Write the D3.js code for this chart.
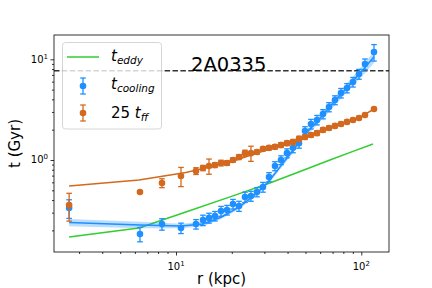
<!DOCTYPE html>
<html>
<head>
<meta charset="utf-8">
<script src="https://cdn.jsdelivr.net/npm/d3@7"></script>
<style>
body { margin: 0; background: #fff; }
svg { display: block; }
text { font-family: "DejaVu Sans", sans-serif; }
</style>
</head>
<body>
<div id="chart"></div>
<script>
// radii of the profile bins (kpc)
var radius = [2.65, 6.39, 8.40, 10.64, 12.82, 13.98, 15.07, 16.23, 17.50, 18.85, 20.30, 21.88, 23.57, 25.39, 27.36,
  29.48, 31.76, 34.21, 36.87, 39.72, 42.79, 46.11, 49.68, 53.52, 57.67, 62.13, 66.94, 72.12, 77.70, 83.72,
  90.20, 97.18, 104.7, 117.1];

// cooling time (Gyr)
var tCool = [0.333, 0.184, 0.231, 0.211, 0.231, 0.253, 0.266, 0.278, 0.311, 0.319, 0.366, 0.349, 0.429, 0.439, 0.481,
  0.539, 0.678, 0.872, 1.00, 1.17, 1.32, 1.47, 1.94, 2.28, 2.50, 2.86, 3.36, 3.94, 4.63, 5.19,
  5.95, 7.14, 8.97, 11.8];
var tCoolErr = [0.07, 0.03, 0.03, 0.025, 0.025, 0.03, 0.03, 0.03, 0.035, 0.035, 0.04, 0.04, 0.05, 0.05, 0.05,
  0.06, 0.07, 0.09, 0.10, 0.12, 0.14, 0.16, 0.20, 0.25, 0.27, 0.30, 0.35, 0.40, 0.50, 0.55,
  0.65, 0.80, 1.1, 2.2];

// 25 x free-fall time (Gyr)
var tFF = [0.357, 0.481, 0.591, 0.694, 0.778, 0.833, 0.872, 0.891, 0.934, 0.934, 1.00, 1.07, 1.17, 1.17, 1.20,
  1.29, 1.32, 1.35, 1.41, 1.47, 1.51, 1.62, 1.69, 1.77, 1.85, 1.99, 2.08, 2.18, 2.28, 2.39,
  2.50, 2.61, 2.80, 3.21];
var tFFErr = [0.11, 0.01, 0.06, 0.15, 0.06, 0.05, 0.15, 0.05, 0.06, 0.05, 0.05, 0.06, 0.08, 0.2, 0.06,
  0.06, 0.07, 0.07, 0.08, 0.08, 0.09, 0.1, 0.09, 0.09, 0.1, 0.1, 0.1, 0.1, 0.1, 0.1,
  0.1, 0.1, 0.1, 0.1];

// eddy turnover time (Gyr)
var eddyR = [2.65, 6.31, 11.3, 20.3, 32.1, 46.7, 67.7, 92.5, 115.6];
var eddyT = [0.172, 0.211, 0.305, 0.44, 0.59, 0.77, 1.0, 1.24, 1.44];

// cooling-time fit with its band
var coolFitR = [2.65, 6.39, 10.64, 13.98, 17.5, 21.9, 27.4, 31.8, 36.9, 42.8, 49.7, 57.7, 67.0, 77.7, 90.2, 104.7, 117.1];
var coolFit = [0.239, 0.226, 0.221, 0.232, 0.27, 0.34, 0.47, 0.62, 0.88, 1.25, 1.8, 2.4, 3.3, 4.5, 6.1, 8.3, 10.6];
var coolFitLo = [0.22, 0.21, 0.21, 0.22, 0.26, 0.325, 0.45, 0.59, 0.83, 1.17, 1.68, 2.22, 3.02, 4.08, 5.45, 7.3, 9.2];
var coolFitHi = [0.26, 0.243, 0.233, 0.244, 0.282, 0.355, 0.49, 0.65, 0.93, 1.33, 1.92, 2.58, 3.58, 4.92, 6.75, 9.3, 12.0];

// free-fall model
var ffFitR = [2.65, 6.31, 11.3, 15.07, 20.3, 25.4, 31.8, 39.7, 49.7, 62.1, 77.7, 97.2, 117.1];
var ffFit = [0.552, 0.633, 0.75, 0.85, 0.97, 1.12, 1.28, 1.45, 1.68, 1.97, 2.3, 2.62, 3.21];

var ageLine = 7.7;
var clusterName = "2A0335";

var xMajor = [10, 100];
var xMinor = [3, 4, 5, 6, 7, 8, 9, 20, 30, 40, 50, 60, 70, 80, 90];
var yMajor = [1, 10];
var yMinor = [0.2, 0.3, 0.4, 0.5, 0.6, 0.7, 0.8, 0.9, 2, 3, 4, 5, 6, 7, 8, 9];

var blue = "#1e90ff";
var orange = "#d2691e";
var green = "#32cd32";

var svgWidth = 432, svgHeight = 288;
var margin = {top: 35, right: 43, bottom: 36, left: 54};
var width = svgWidth - margin.left - margin.right;
var height = svgHeight - margin.top - margin.bottom;

var svg = d3.select("#chart").append("svg")
  .attr("width", svgWidth)
  .attr("height", svgHeight);

var chartGroup = svg.append("g")
  .attr("transform", `translate(${margin.left}, ${margin.top})`);

var xScale = d3.scaleLog().domain([2.196, 141.1]).range([0, width]);
var yScale = d3.scaleLog().domain([0.122, 17.43]).range([height, 0]);

chartGroup.append("clipPath").attr("id", "clip")
  .append("rect").attr("width", width).attr("height", height);

var plot = chartGroup.append("g").attr("clip-path", "url(#clip)");

// dashed age line
plot.append("line")
  .attr("x1", 0).attr("x2", width)
  .attr("y1", yScale(ageLine)).attr("y2", yScale(ageLine))
  .attr("stroke", "#333").attr("stroke-width", 1.5)
  .attr("stroke-dasharray", "5.5,2.4");

// eddy line
var lineGen = d3.line().x(d => xScale(d[0])).y(d => yScale(d[1]));
plot.append("path")
  .attr("d", lineGen(eddyR.map((r, i) => [r, eddyT[i]])))
  .attr("fill", "none").attr("stroke", green).attr("stroke-width", 1.5);

// free-fall model line
plot.append("path")
  .attr("d", lineGen(ffFitR.map((r, i) => [r, ffFit[i]])))
  .attr("fill", "none").attr("stroke", orange).attr("stroke-width", 1.5);

// cooling fit band and line
var band = d3.area()
  .x((d, i) => xScale(coolFitR[i]))
  .y0((d, i) => yScale(coolFitLo[i]))
  .y1((d, i) => yScale(coolFitHi[i]));
plot.append("path")
  .attr("d", band(coolFit))
  .attr("fill", blue).attr("fill-opacity", 0.3);
plot.append("path")
  .attr("d", lineGen(coolFitR.map((r, i) => [r, coolFit[i]])))
  .attr("fill", "none").attr("stroke", blue).attr("stroke-width", 1.5);

function errorbars(vals, errs, color) {
  var g = plot.append("g");
  radius.forEach(function(r, i) {
    var x = xScale(r);
    var y0 = yScale(Math.max(vals[i] - errs[i], 0.01));
    var y1 = yScale(vals[i] + errs[i]);
    g.append("line").attr("x1", x).attr("x2", x).attr("y1", y0).attr("y2", y1)
      .attr("stroke", color).attr("stroke-width", 1.3);
    [y0, y1].forEach(function(yy) {
      g.append("line").attr("x1", x - 2.8).attr("x2", x + 2.8).attr("y1", yy).attr("y2", yy)
        .attr("stroke", color).attr("stroke-width", 1.3);
    });
  });
  g.selectAll("circle").data(vals).enter().append("circle")
    .attr("cx", (d, i) => xScale(radius[i]))
    .attr("cy", d => yScale(d))
    .attr("r", 3.3)
    .attr("fill", color);
}
errorbars(tCool, tCoolErr, blue);
errorbars(tFF, tFFErr, orange);

// cluster name
chartGroup.append("text")
  .attr("x", 137).attr("y", 36)
  .attr("font-family", "'Liberation Sans', Arial, sans-serif")
  .attr("font-size", "19.5px")
  .attr("fill", "#000")
  .text(clusterName);

// axes ticks
var bottom = chartGroup.append("g").attr("transform", `translate(0, ${height})`);
bottom.call(d3.axisBottom(xScale).tickValues(xMajor).tickSize(3.5).tickFormat(""));
bottom.append("g").call(d3.axisBottom(xScale).tickValues(xMinor).tickSize(2).tickFormat(""));
var left = chartGroup.append("g");
left.call(d3.axisLeft(yScale).tickValues(yMajor).tickSize(3.5).tickFormat(""));
left.append("g").call(d3.axisLeft(yScale).tickValues(yMinor).tickSize(2).tickFormat(""));
chartGroup.selectAll(".domain").remove();
chartGroup.selectAll(".tick line").attr("stroke", "#000").attr("stroke-width", 0.8);

// frame
chartGroup.append("rect")
  .attr("width", width).attr("height", height)
  .attr("fill", "none").attr("stroke", "#000").attr("stroke-width", 0.8);

// tick labels with superscripts
xMajor.forEach(function(v) {
  var t = bottom.append("text")
    .attr("x", xScale(v)).attr("y", 18)
    .attr("text-anchor", "middle").attr("font-size", "10px").attr("fill", "#000");
  t.append("tspan").text("10");
  t.append("tspan").attr("dy", -4).attr("font-size", "7px").text(Math.round(Math.log10(v)));
});
yMajor.forEach(function(v) {
  var t = left.append("text")
    .attr("x", -6).attr("y", yScale(v) + 3.5)
    .attr("text-anchor", "end").attr("font-size", "10px").attr("fill", "#000");
  t.append("tspan").text("10");
  t.append("tspan").attr("dy", -4).attr("font-size", "7px").text(Math.round(Math.log10(v)));
});

// axis titles
chartGroup.append("text")
  .attr("transform", `translate(${width / 2}, ${height + 32})`)
  .attr("text-anchor", "middle").attr("font-size", "15px")
  .text("r (kpc)");
chartGroup.append("text")
  .attr("transform", `translate(-34, ${height / 2}) rotate(-90)`)
  .attr("text-anchor", "middle").attr("font-size", "15px")
  .text("t (Gyr)");

// legend
var legend = svg.append("g");
legend.append("rect")
  .attr("x", 62.5).attr("y", 42.5).attr("width", 99).attr("height", 86.5)
  .attr("rx", 3).attr("fill", "#fff").attr("fill-opacity", 0.8)
  .attr("stroke", "#ccc").attr("stroke-width", 0.8);

legend.append("line")
  .attr("x1", 67).attr("x2", 99).attr("y1", 57).attr("y2", 57)
  .attr("stroke", green).attr("stroke-width", 1.5);

[[86, blue], [113, orange]].forEach(function(e) {
  legend.append("line").attr("x1", 83).attr("x2", 83).attr("y1", e[0] - 8).attr("y2", e[0] + 8)
    .attr("stroke", e[1]).attr("stroke-width", 1.3);
  [e[0] - 8, e[0] + 8].forEach(function(yy) {
    legend.append("line").attr("x1", 80.2).attr("x2", 85.8).attr("y1", yy).attr("y2", yy)
      .attr("stroke", e[1]).attr("stroke-width", 1.3);
  });
  legend.append("circle").attr("cx", 83).attr("cy", e[0]).attr("r", 3.3).attr("fill", e[1]);
});

function mathLabel(x, y, pre, sub) {
  var t = legend.append("text").attr("x", x).attr("y", y).attr("font-size", "15px").attr("fill", "#000");
  if (pre) t.append("tspan").text(pre);
  t.append("tspan").attr("font-style", "italic").text("t");
  t.append("tspan").attr("font-style", "italic").attr("font-size", "10.5px").attr("dy", 3).text(sub);
}
mathLabel(111, 61, null, "eddy");
mathLabel(111, 89, null, "cooling");
mathLabel(111, 118, "25 ", "ff");
</script>
</body>
</html>
